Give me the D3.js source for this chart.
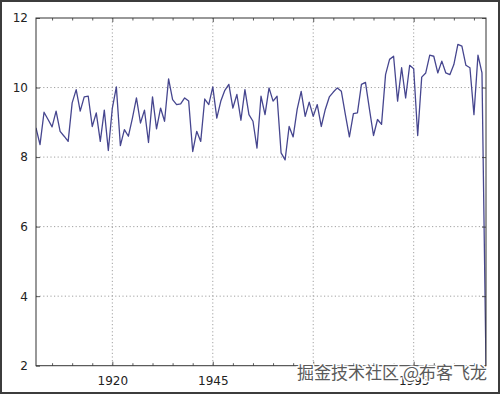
<!DOCTYPE html>
<html>
<head>
<meta charset="utf-8">
<script src="https://cdn.jsdelivr.net/npm/d3@7"></script>
<style>
  body { margin: 0; background: #fff; }
  svg { display: block; }
</style>
</head>
<body>
<svg class="chart" width="500" height="394"></svg>
<script>
// annual series
const years = [
  1901, 1902, 1903, 1904, 1905, 1906, 1907, 1908, 1909, 1910,
  1911, 1912, 1913, 1914, 1915, 1916, 1917, 1918, 1919, 1920,
  1921, 1922, 1923, 1924, 1925, 1926, 1927, 1928, 1929, 1930,
  1931, 1932, 1933, 1934, 1935, 1936, 1937, 1938, 1939, 1940,
  1941, 1942, 1943, 1944, 1945, 1946, 1947, 1948, 1949, 1950,
  1951, 1952, 1953, 1954, 1955, 1956, 1957, 1958, 1959, 1960,
  1961, 1962, 1963, 1964, 1965, 1966, 1967, 1968, 1969, 1970,
  1971, 1972, 1973, 1974, 1975, 1976, 1977, 1978, 1979, 1980,
  1981, 1982, 1983, 1984, 1985, 1986, 1987, 1988, 1989, 1990,
  1991, 1992, 1993, 1994, 1995, 1996, 1997, 1998, 1999, 2000,
  2001, 2002, 2003, 2004, 2005, 2006, 2007, 2008, 2009, 2010,
  2011, 2012, 2013
];
const values = [
  8.84, 8.36, 9.29, 9.08, 8.87, 9.32, 8.74, 8.60, 8.45, 9.56,
  9.94, 9.32, 9.73, 9.75, 8.88, 9.27, 8.45, 9.35, 8.19, 9.41,
  10.02, 8.33, 8.79, 8.60, 9.12, 9.70, 8.98, 9.35, 8.42, 9.73,
  8.81, 9.41, 9.03, 10.25, 9.65, 9.51, 9.53, 9.70, 9.61, 8.16,
  8.74, 8.45, 9.67, 9.51, 10.02, 9.12, 9.61, 9.92, 10.09, 9.41,
  9.80, 9.06, 9.94, 9.22, 9.03, 8.26, 9.75, 9.22, 9.99, 9.61,
  9.75, 8.12, 7.92, 8.88, 8.58, 9.37, 9.89, 9.17, 9.58, 9.17,
  9.51, 8.88, 9.37, 9.73, 9.87, 9.99, 9.89, 9.22, 8.58, 9.25,
  9.27, 10.09, 10.15, 9.37, 8.62, 9.08, 8.94, 10.37, 10.81, 10.90,
  9.61, 10.57, 9.70, 10.64, 10.54, 8.62, 10.30, 10.42, 10.93, 10.90,
  10.42, 10.76, 10.42, 10.37, 10.66, 11.24, 11.19, 10.64, 10.57, 9.22,
  10.93, 10.42, 2.0
];

const xMajor = [1920, 1945, 1970, 1995];
// the 1970 label sits under the watermark in the picture
const xLabels = ['1920', '1945', '', '1995'];
const xMinor = [1905, 1910, 1915, 1925, 1930, 1935, 1940, 1950, 1955, 1960,
                1965, 1975, 1980, 1985, 1990, 2000, 2005, 2010];
const yTicks = [2, 4, 6, 8, 10, 12];
const watermark = '掘金技术社区 @布客飞龙';

const svg = d3.select('.chart');
const width = +svg.attr('width');
const height = +svg.attr('height');
const margin = {top: 18, right: 14, bottom: 28.3, left: 36};
const plotW = width - margin.left - margin.right;
const plotH = height - margin.top - margin.bottom;

const x = d3.scaleLinear().domain([1901, 2013]).range([0, plotW]);
const y = d3.scaleLinear().domain([2, 12]).range([plotH, 0]);

const g = svg.append('g').attr('transform', `translate(${margin.left},${margin.top})`);

// grid
g.append('g').selectAll('line').data(xMajor).enter().append('line')
  .attr('x1', d => x(d)).attr('x2', d => x(d))
  .attr('y1', 0).attr('y2', plotH)
  .attr('stroke', '#8a8a8a').attr('stroke-width', 0.8)
  .attr('stroke-dasharray', '1.2,2.4');
g.append('g').selectAll('line').data(yTicks.slice(1, -1)).enter().append('line')
  .attr('x1', 0).attr('x2', plotW)
  .attr('y1', d => y(d)).attr('y2', d => y(d))
  .attr('stroke', '#8a8a8a').attr('stroke-width', 0.8)
  .attr('stroke-dasharray', '1.2,2.4');

// line
g.append('clipPath').attr('id', 'clip')
  .append('rect').attr('width', plotW).attr('height', plotH);

const line = d3.line()
  .x((d, i) => x(years[i]))
  .y(d => y(d));

g.append('path')
  .datum(values)
  .attr('clip-path', 'url(#clip)')
  .attr('fill', 'none')
  .attr('stroke', '#46468f')
  .attr('stroke-width', 1.3)
  .attr('stroke-linejoin', 'round')
  .attr('d', line);

// axes, ticks pointing inward on all four sides
function styleAxis(sel) {
  sel.select('.domain').remove();
  sel.selectAll('line').attr('stroke', '#333').attr('stroke-width', 0.8);
  sel.selectAll('text')
    .attr('font-family', '"DejaVu Sans", sans-serif')
    .attr('font-size', 12)
    .attr('fill', '#222');
}

g.append('g').attr('transform', `translate(0,${plotH})`)
  .call(d3.axisBottom(x).tickValues(xMajor).tickFormat((d, i) => xLabels[i]).tickSize(-4).tickPadding(11))
  .call(styleAxis);
g.append('g').attr('transform', `translate(0,${plotH})`)
  .call(d3.axisBottom(x).tickValues(xMinor).tickFormat('').tickSize(-2.5))
  .call(styleAxis);
g.append('g')
  .call(d3.axisTop(x).tickValues(xMajor).tickFormat('').tickSize(-4))
  .call(styleAxis);
g.append('g')
  .call(d3.axisTop(x).tickValues(xMinor).tickFormat('').tickSize(-2.5))
  .call(styleAxis);
g.append('g')
  .call(d3.axisLeft(y).tickValues(yTicks).tickSize(-4).tickPadding(8))
  .call(styleAxis);
g.append('g').attr('transform', `translate(${plotW},0)`)
  .call(d3.axisRight(y).tickValues(yTicks).tickFormat('').tickSize(-4))
  .call(styleAxis);

// frame
g.append('rect')
  .attr('width', plotW).attr('height', plotH)
  .attr('fill', 'none').attr('stroke', '#333').attr('stroke-width', 1);

// watermark
svg.append('text')
  .attr('x', 487).attr('y', 379)
  .attr('text-anchor', 'end')
  .attr('font-family', '"Noto Sans CJK SC", sans-serif')
  .attr('font-size', 17)
  .attr('fill', '#5a5a5a')
  .attr('stroke', '#fff').attr('stroke-width', 3)
  .attr('paint-order', 'stroke')
  .text(watermark);

// outer border of the picture
svg.append('rect')
  .attr('x', 1).attr('y', 1)
  .attr('width', width - 2).attr('height', height - 2)
  .attr('fill', 'none').attr('stroke', '#3c3c3c').attr('stroke-width', 2);
</script>
</body>
</html>
